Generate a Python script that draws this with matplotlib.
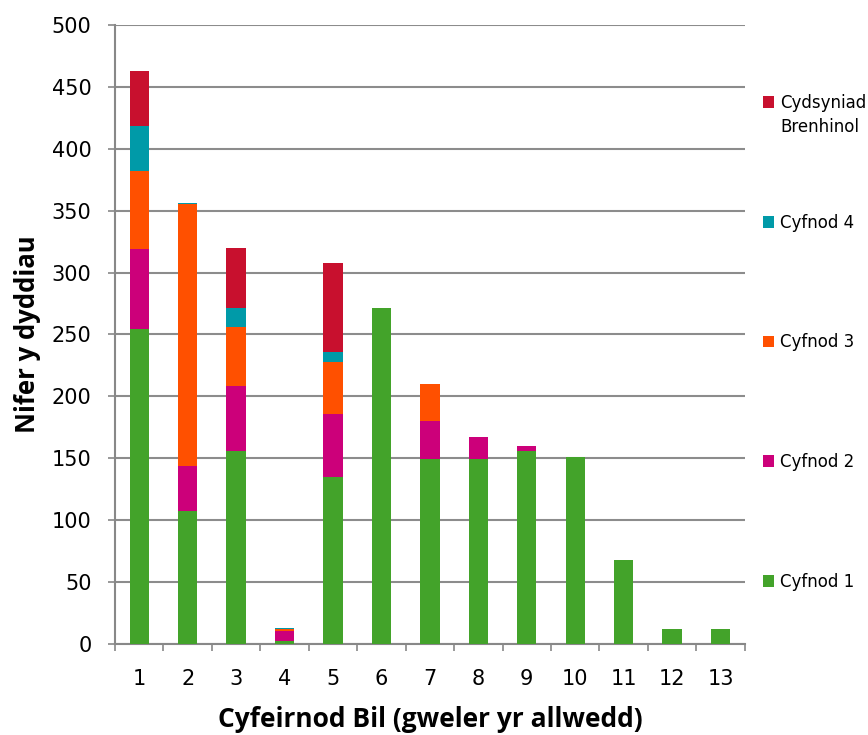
import numpy as np
import matplotlib
matplotlib.use('Agg')
import matplotlib.pyplot as plt

plt.rcParams['font.family'] = ['DejaVu Sans']

# bill reference numbers and days per stage
bills = ['1', '2', '3', '4', '5', '6', '7', '8', '9', '10', '11', '12', '13']
cyfnod1 = [254, 107, 156, 2, 135, 271, 149, 149, 156, 151, 68, 12, 12]
cyfnod2 = [65, 37, 52, 8, 51, 0, 31, 18, 4, 0, 0, 0, 0]
cyfnod3 = [63, 211, 48, 2, 42, 0, 30, 0, 0, 0, 0, 0, 0]
cyfnod4 = [36, 1, 15, 1, 8, 0, 0, 0, 0, 0, 0, 0, 0]
cydsyniad = [45, 0, 49, 0, 72, 0, 0, 0, 0, 0, 0, 0, 0]

series = [
    ('Cyfnod 1', cyfnod1, '#43a32a'),
    ('Cyfnod 2', cyfnod2, '#cc007a'),
    ('Cyfnod 3', cyfnod3, '#ff5000'),
    ('Cyfnod 4', cyfnod4, '#009aa8'),
    ('Cydsyniad Brenhinol', cydsyniad, '#c8102e'),
]

fig = plt.figure(figsize=(8.68, 7.35), dpi=100)
ax = fig.add_axes([0.1325, 0.124, 0.7255, 0.842])

x = np.arange(1, len(bills) + 1)
bottom = np.zeros(len(bills))
handles = []
for name, vals, col in series:
    b = ax.bar(x, vals, 0.4, bottom=bottom, color=col, label=name, zorder=3)
    handles.append(b)
    bottom += np.array(vals)

ax.set_xlim(0.5, len(bills) + 0.5)
ax.set_ylim(0, 500)
ax.set_yticks(np.arange(0, 501, 50))
ax.set_xticks(x)
ax.set_xticklabels(bills)
ax.set_xticks(np.arange(0.5, len(bills) + 1, 1), minor=True)
ax.tick_params(axis='x', which='major', length=0, labelsize=15, pad=18)
ax.tick_params(axis='x', which='minor', length=5, color='#888888', width=1.2)
ax.tick_params(axis='y', length=5, color='#888888', width=1.2, labelsize=15, pad=12)

ax.grid(axis='y', color='#8c8c8c', linewidth=1.5, zorder=0)
for s in ['top', 'right']:
    ax.spines[s].set_visible(False)
for s in ['left', 'bottom']:
    ax.spines[s].set_color('#888888')
    ax.spines[s].set_linewidth(1.5)

ax.set_ylabel('Nifer y dyddiau', fontsize=18.5, fontweight='bold',
              family='Open Sans', labelpad=8)
ax.set_xlabel('Cyfeirnod Bil (gweler yr allwedd)', fontsize=19, fontweight='bold',
              family='Open Sans', labelpad=12)

# legend: four stages evenly spaced, royal assent on its own at the top
names = [s[0] for s in series]
leg = ax.legend(handles[3::-1], names[3::-1],
                loc='lower left', bbox_to_anchor=(1.0286, 0.086), frameon=False,
                fontsize=12, handlelength=0.7, handleheight=0.7,
                handletextpad=0.35, labelspacing=6.1, borderaxespad=0,
                borderpad=0)
ax.add_artist(leg)
first, second = names[4].split(' ')
leg2 = ax.legend(handles[4:], [first],
                 loc='upper left', bbox_to_anchor=(1.0286, 0.8885), frameon=False,
                 fontsize=12, handlelength=0.7, handleheight=0.7,
                 handletextpad=0.35, borderaxespad=0, borderpad=0)

# second line of the wrapped label, placed under the first
fig.canvas.draw()
bb = leg2.get_texts()[0].get_window_extent()
fig.text(bb.x0 / fig.dpi / fig.get_figwidth(),
         (bb.y0 - 24) / fig.dpi / fig.get_figheight(),
         second, fontsize=12, va='bottom', ha='left')

fig.savefig('out.png', dpi=100)
